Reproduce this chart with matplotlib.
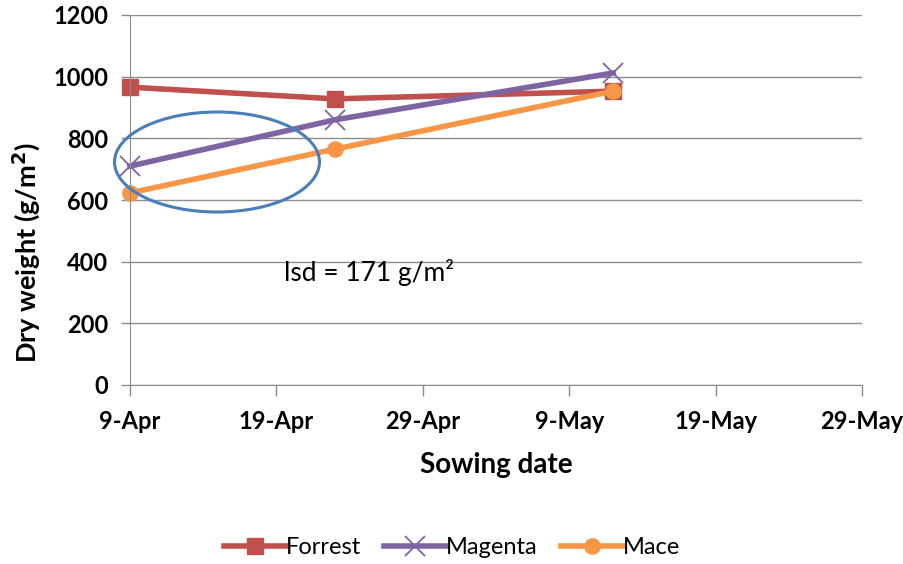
import matplotlib
matplotlib.use("Agg")
import matplotlib.pyplot as plt
from matplotlib.patches import Ellipse
import numpy as np

# sowing dates and dry weight (g/m2)
sow_dates = np.array(["2013-04-09", "2013-04-23", "2013-05-12"], dtype="datetime64[D]")
forrest = [966, 928, 953]
magenta = [710, 860, 1012]
mace = [623, 765, 953]
tick_dates = np.array(["2013-04-09", "2013-04-19", "2013-04-29", "2013-05-09",
                       "2013-05-19", "2013-05-29"], dtype="datetime64[D]")
tick_labels = ["9-Apr", "19-Apr", "29-Apr", "9-May", "19-May", "29-May"]
y_ticks = [0, 200, 400, 600, 800, 1000, 1200]

plt.rcParams['font.family'] = ['Lato', 'DejaVu Sans']


def to_dt(a):
    return a.astype("datetime64[ms]").astype(object)


fig = plt.figure(figsize=(9.04, 5.64), dpi=100)
ax = fig.add_axes([130 / 904, 179 / 564, 732 / 904, 370 / 564])

x = to_dt(sow_dates)
ax.plot(x, forrest, color="#C0504D", lw=4, marker="s", ms=12, label="Forrest", clip_on=False)
ax.plot(x, magenta, color="#8064A2", lw=4, marker="x", ms=14, mew=1.3, label="Magenta",
        clip_on=False)
ax.plot(x, mace, color="#F79646", lw=4, marker="o", ms=11, label="Mace", clip_on=False)

ax.set_xlim(to_dt(tick_dates[0]), to_dt(tick_dates[-1]))
ax.set_xticks(to_dt(tick_dates))
ax.set_xticklabels(tick_labels)
ax.set_ylim(0, 1200)
ax.set_yticks(y_ticks)

ax.grid(axis="y", color="#8c8c8c", lw=1)
ax.set_axisbelow(True)
for s in ["top", "right"]:
    ax.spines[s].set_visible(False)
for s in ["left", "bottom"]:
    ax.spines[s].set_color("#8c8c8c")
ax.tick_params(axis="both", colors="#8c8c8c", width=1, labelcolor="black", labelsize=17)
ax.tick_params(axis="y", length=6.5, pad=9)
ax.tick_params(axis="x", length=8, pad=10)
for lbl in ax.get_xticklabels() + ax.get_yticklabels():
    lbl.set_fontweight("bold")

ax.set_xlabel("Sowing date", fontsize=20, fontweight="bold")
ax.xaxis.set_label_coords(0.5, -0.18)
ax.set_ylabel("Dry weight (g/m$^\\mathbf{2}$)", fontsize=19.5, fontweight="bold")
ax.yaxis.set_label_coords(-0.12, 0.357)

# annotation ellipse around the early sowing dates
ell = Ellipse((217 / 904, (564 - 162) / 564), 205 / 904, 100 / 564, transform=fig.transFigure,
              fill=False, ec="#4A7EBB", lw=2.2, zorder=5)
fig.add_artist(ell)

fig.text(284 / 904, (564 - 272) / 564, "lsd = 171 g/m²", fontsize=19, va="center", ha="left")

fig.legend(loc="center", bbox_to_anchor=(0.5, (564 - 548) / 564), ncol=3, frameon=False,
           fontsize=17, handlelength=2.6, handletextpad=0.0, columnspacing=1.0)

fig.savefig("out.png", dpi=100, facecolor="white")
